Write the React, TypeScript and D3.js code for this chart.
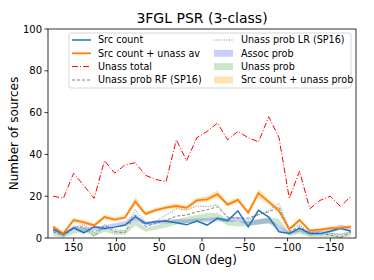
import * as d3 from 'd3'

// bin centres (GLON, 12 deg bins)
const glon = [174, 162, 150, 138, 126, 114, 102, 90, 78, 66, 54, 42, 30, 18, 6, -6, -18, -30, -42, -54, -66, -78, -90, -102, -114, -126, -138, -150, -162, -174]

const srcCount = [4.2, 1.8, 4.9, 2.5, 5.4, 4.6, 5.2, 6.2, 10.1, 7, 7.8, 8.1, 7.3, 6.3, 8.1, 6.2, 9.4, 8.3, 13, 5.3, 13.2, 10, 3, 2.2, 4.6, 2.2, 2.1, 3.2, 4.6, 3.2]
const srcUnassAv = [5.4, 2.2, 8.6, 7.5, 6, 10, 8.8, 9.8, 17.5, 11.5, 13.3, 14.5, 15.3, 14.4, 18, 18.5, 21, 16, 18.2, 12.1, 21.5, 17.3, 13, 4.2, 8.6, 3.5, 4, 4.7, 4.8, 5.4]
const unassTotal = [20, 19, 31, 25, 19, 37, 31, 35, 36, 30, 28, 27, 47, 37, 48, 51, 55, 47, 51, 48, 46, 58, 48, 19, 32, 14, 18, 20, 15, 20]
const unassRF = [3, 1, 4.5, 5.5, 0.8, 6, 3, 2.5, 11, 5.5, 7, 8.5, 10.5, 11, 12.5, 13.5, 15, 10, 9.5, 9.5, 11.3, 12.5, 14.8, 3.2, 5.4, 2.5, 2.2, 1.4, 0.3, 2.7]
const unassLR = [3.5, 1.5, 5, 6.5, 2.5, 6.5, 4, 3.5, 13.5, 7, 8, 11, 14, 13.3, 15.4, 15, 16, 9.5, 10, 8.6, 11, 13.3, 16.5, 4.6, 6.2, 3, 3, 2.2, 1.8, 3]

const assocLow = [3, 1, 4, 3, 3.5, 4, 5, 5.5, 8.5, 6, 6.5, 7, 7, 7, 7.5, 7.5, 8, 7.5, 8, 6, 6.5, 7, 3.5, 1.5, 3, 1.2, 1.5, 2.5, 4, 3]
const assocHigh = [5, 2.5, 6, 5, 5.5, 6, 7, 8, 11.5, 8, 8.5, 9, 9, 9, 9.5, 9.5, 10, 9.5, 10, 8, 9, 9.5, 6, 3, 5, 3, 3.5, 4.5, 6.5, 5]
const unassLow = [1, 0, 2, 3, 0.8, 3, 1.5, 1.5, 6, 3, 4, 5, 6.5, 7, 8, 8.5, 9, 6, 5.5, 5.5, 6.5, 7, 6, 1, 2, 0.5, 0.5, 0.5, 0, 1]
const unassHigh = [3, 1.5, 4, 5, 3, 5, 3.5, 3.5, 9, 5, 6, 7.5, 9, 10, 11, 12, 12, 9, 8, 8, 9, 10, 9, 3, 4, 2, 2, 2.5, 2, 3]
const srcProbLow = [4.5, 1.5, 7.5, 6.5, 5, 9, 8, 9, 16, 10.5, 12.3, 13.5, 14.2, 13.3, 16.8, 17.3, 19.5, 15, 17, 11, 19.5, 16, 11.8, 3.5, 7.8, 2.8, 3.3, 3.8, 4, 4.6]
const srcProbHigh = [6.4, 3, 9.8, 8.5, 7, 11.2, 9.8, 11, 19.5, 12.6, 14.5, 15.7, 16.5, 15.6, 19.3, 19.8, 22.8, 17.2, 19.5, 13.3, 23.5, 18.7, 14.3, 5, 9.5, 4.3, 4.8, 5.8, 5.8, 6.3]

const xTicks = [150, 100, 50, 0, -50, -100, -150]
const yTicks = [0, 20, 40, 60, 80, 100]

const FONT = 'DejaVu Sans, sans-serif'

export default function App() {
  const W = 374
  const H = 280
  const left = 48, right = 356, top = 29, bottom = 238

  const x = d3.scaleLinear().domain([180, -180]).range([left, right])
  const y = d3.scaleLinear().domain([0, 100]).range([bottom, top])

  const line = (vals: number[]) =>
    d3.line<number>().x((_, i) => x(glon[i])).y(d => y(d))(vals) ?? ''
  const band = (lo: number[], hi: number[]) =>
    d3.area<number>().x((_, i) => x(glon[i])).y0((_, i) => y(lo[i])).y1(d => y(d))(hi) ?? ''

  const fmt = (v: number) => (v < 0 ? '\u2212' + Math.abs(v) : String(v))

  const legendLeft = [
    { label: 'Src count', stroke: '#1f77b4', dash: '', w: 1.5 },
    { label: 'Src count + unass av', stroke: '#ff7f0e', dash: '', w: 1.8 },
    { label: 'Unass total', stroke: 'red', dash: '6,2,1,2', w: 1 },
    { label: 'Unass prob RF (SP16)', stroke: 'gray', dash: '3,2', w: 1 },
  ]
  const legendRight = [
    { label: 'Unass prob LR (SP16)', stroke: 'gray', dash: '1,1.5', fill: '' },
    { label: 'Assoc prob', fill: 'blue' },
    { label: 'Unass prob', fill: 'green' },
    { label: 'Src count + unass prob', fill: 'orange' },
  ]
  const rowY = [40, 53.3, 66.6, 80]

  return (
    <svg width={W} height={H} style={{ position: 'absolute', left: 0, top: 0 }} fontFamily={FONT}>
      <rect width={W} height={H} fill="white" />
      <text x={(left + right) / 2} y={23} textAnchor="middle" fontSize={14}>3FGL PSR (3-class)</text>

      {/* bands */}
      <path d={band(assocLow, assocHigh)} fill="blue" fillOpacity={0.2} />
      <path d={band(unassLow, unassHigh)} fill="green" fillOpacity={0.2} />
      <path d={band(srcProbLow, srcProbHigh)} fill="orange" fillOpacity={0.3} />

      {/* lines */}
      <path d={line(unassRF)} fill="none" stroke="gray" strokeWidth={1} strokeDasharray="3,2" />
      <path d={line(unassLR)} fill="none" stroke="gray" strokeWidth={1} strokeDasharray="1,1.5" />
      <path d={line(srcCount)} fill="none" stroke="#1f77b4" strokeWidth={1.5} />
      <path d={line(srcUnassAv)} fill="none" stroke="#ff7f0e" strokeWidth={1.8} />
      <path d={line(unassTotal)} fill="none" stroke="red" strokeWidth={1} strokeDasharray="6,2,1,2" />

      {/* frame */}
      <rect x={left} y={top} width={right - left} height={bottom - top} fill="none" stroke="black" strokeWidth={0.8} />

      {xTicks.map(t => (
        <g key={'x' + t}>
          <line x1={x(t)} x2={x(t)} y1={bottom} y2={bottom + 3.5} stroke="black" strokeWidth={0.8} />
          <text x={x(t)} y={251} textAnchor="middle" fontSize={10}>{fmt(t)}</text>
        </g>
      ))}
      {yTicks.map(t => (
        <g key={'y' + t}>
          <line x1={left - 3.5} x2={left} y1={y(t)} y2={y(t)} stroke="black" strokeWidth={0.8} />
          <text x={left - 6} y={y(t) + 3.5} textAnchor="end" fontSize={10}>{t}</text>
        </g>
      ))}

      <text x={(left + right) / 2} y={264} textAnchor="middle" fontSize={12}>GLON (deg)</text>
      <text transform={`translate(18,${(top + bottom) / 2}) rotate(-90)`} textAnchor="middle" fontSize={12}>Number of sources</text>

      {/* legend */}
      <rect x={69} y={33} width={282} height={55} rx={2} fill="white" fillOpacity={0.8} stroke="#cccccc" strokeWidth={0.8} />
      {legendLeft.map((d, i) => (
        <g key={d.label}>
          <line x1={72} x2={91} y1={rowY[i]} y2={rowY[i]} stroke={d.stroke} strokeWidth={d.w} strokeDasharray={d.dash} />
          <text x={98} y={rowY[i] + 3.4} fontSize={9.6}>{d.label}</text>
        </g>
      ))}
      {legendRight.map((d, i) => (
        <g key={d.label}>
          {d.fill
            ? <rect x={214} y={rowY[i] - 3.5} width={19} height={7} fill={d.fill} fillOpacity={d.fill === 'orange' ? 0.3 : 0.2} />
            : <line x1={214} x2={233} y1={rowY[i]} y2={rowY[i]} stroke={d.stroke} strokeWidth={1} strokeDasharray={d.dash} />}
          <text x={241} y={rowY[i] + 3.4} fontSize={9.6}>{d.label}</text>
        </g>
      ))}
    </svg>
  )
}
